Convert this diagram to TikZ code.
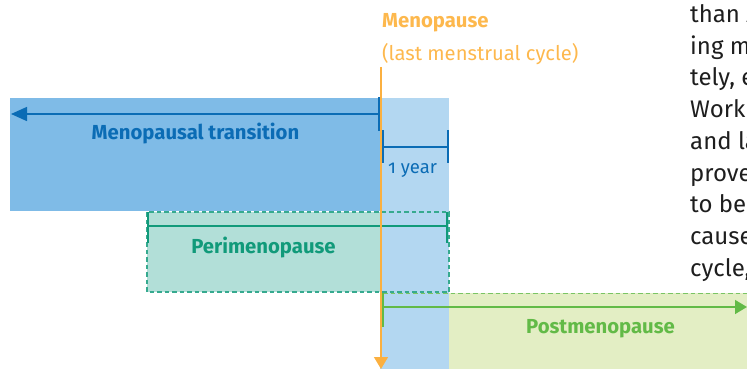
\documentclass[tikz,border=0pt]{standalone}
\usepackage{fontspec}
\setmainfont{Fira Sans}[Numbers=OldStyle]
\usetikzlibrary{arrows.meta}
\definecolor{mtfill}{HTML}{7FBBE7}
\definecolor{lbfill}{HTML}{B3D7F1}
\definecolor{dblue}{HTML}{0B6CB5}
\definecolor{tealfill}{HTML}{B2DFD8}
\definecolor{tealline}{HTML}{119A7A}
\definecolor{tealdash}{HTML}{36AA8F}
\definecolor{greenfill}{HTML}{E3EEC4}
\definecolor{greenline}{HTML}{62BA47}
\definecolor{orangeline}{HTML}{FBB040}
\definecolor{orangetext}{HTML}{FDB84D}
\definecolor{bodytext}{HTML}{1E1E1E}
\tikzset{
  band/.style={draw=none, inner sep=0, outer sep=0, anchor=north west},
  dashborder/.style={line width=1.8pt, dash pattern=on 4.5pt off 3pt},
  tickline/.style={line width=2.5pt},
  axisline/.style={line width=1.5pt},
  lbl/.style={inner sep=0, font=\fontsize{20.3}{22}\selectfont\bfseries},
  body/.style={inner sep=0, anchor=base west, text=bodytext, font=\fontsize{24}{28}\selectfont},
}
\begin{document}
\begin{tikzpicture}[x=1pt,y=-1pt]
\useasboundingbox (0,0) rectangle (747,369);
\begin{scope}
\clip (0,0) rectangle (747,369);
% bands
\node[band, fill=tealfill, minimum width=302, minimum height=80] (peri) at (147,212) {};
\node[band, fill=greenfill, minimum width=298, minimum height=76] (post) at (449,293) {};
\node[band, fill=lbfill, minimum width=69, minimum height=271] (year) at (380,98) {};
\node[band, fill=mtfill, minimum width=370, minimum height=113] (mt) at (10,98) {};
% perimenopause dashed border
\draw[dashborder, draw=tealdash] (peri.north west) rectangle (peri.south east);
% postmenopause dashed top
\coordinate (postTL) at (383,293.5);
\coordinate (postTR) at (747,293.5);
\draw[dashborder, line width=1.3pt, draw=greenline!85] (postTL) -- (postTR);

% menopausal transition arrow
\coordinate (mtR) at (380,114);
\coordinate (mtL) at (11,114);
\coordinate (mtT1) at (379,97);
\coordinate (mtT2) at (379,131);
\draw[axisline, dblue, -{Triangle[length=16pt,width=14pt]}] (mtR) -- (mtL);
\draw[tickline, dblue] (mtT1) -- (mtT2);
\node[lbl, text=dblue, anchor=base] (mtlabel) at (195.5,139) {Menopausal transition};

% 1 year bracket
\coordinate (yL1) at (383,130); \coordinate (yL2) at (383,163);
\coordinate (yR1) at (448,130); \coordinate (yR2) at (448,163);
\coordinate (yLm) at (383,147); \coordinate (yRm) at (448,147);
\draw[tickline, dblue] (yL1) -- (yL2);
\draw[tickline, dblue] (yR1) -- (yR2);
\draw[axisline, dblue] (yLm) -- (yRm);
\node[inner sep=0, anchor=base west, text=dblue, font=\fontsize{18.5}{20}\selectfont] (yearlabel) at (388,173) {1 year};

% perimenopause
\coordinate (pL1) at (148,212); \coordinate (pL2) at (148,243);
\coordinate (pR1) at (447,212); \coordinate (pR2) at (447,243);
\coordinate (pLm) at (148,226); \coordinate (pRm) at (447,226);
\draw[tickline, tealline] (pL1) -- (pL2);
\draw[tickline, tealline] (pR1) -- (pR2);
\draw[axisline, tealline] (pLm) -- (pRm);
\node[lbl, text=tealline, anchor=base] (perilabel) at (263.5,253) {Perimenopause};

% postmenopause
\coordinate (qT1) at (383,293); \coordinate (qT2) at (383,327);
\coordinate (qL) at (383,307); \coordinate (qR) at (747,307);
\draw[tickline, greenline] (qT1) -- (qT2);
\draw[axisline, greenline, -{Triangle[length=12pt,width=14pt]}] (qL) -- (qR);
\node[lbl, text=greenline, anchor=base] (postlabel) at (600.5,333) {Postmenopause};

% menopause line
\coordinate (mT) at (381,67);
\coordinate (mB) at (381,369);
\draw[axisline, orangeline, -{Triangle[length=12pt,width=14pt]}] (mT) -- (mB);
\node[lbl, text=orangetext, anchor=base west] (menolabel) at (382,28) {Menopause};
\node[inner sep=0, anchor=base west, text=orangetext, font=\fontsize{20.2}{22}\selectfont] (lmclabel) at (382,60) {(last menstrual cycle)};

% body text fragment
\node[body] (b1) at (690,22.5) {than A};
\node[body] (b2) at (690,54.2) {ing m};
\node[body] (b3) at (690,85.9) {tely, e};
\node[body] (b4) at (690,117.6) {Work};
\node[body] (b5) at (690,149.3) {and la};
\node[body] (b6) at (690,181) {prove};
\node[body] (b7) at (690,212.7) {to be};
\node[body] (b8) at (690,244.4) {cause};
\node[body] (b9) at (690,276.1) {cycle,};
\end{scope}
\end{tikzpicture}
\end{document}
